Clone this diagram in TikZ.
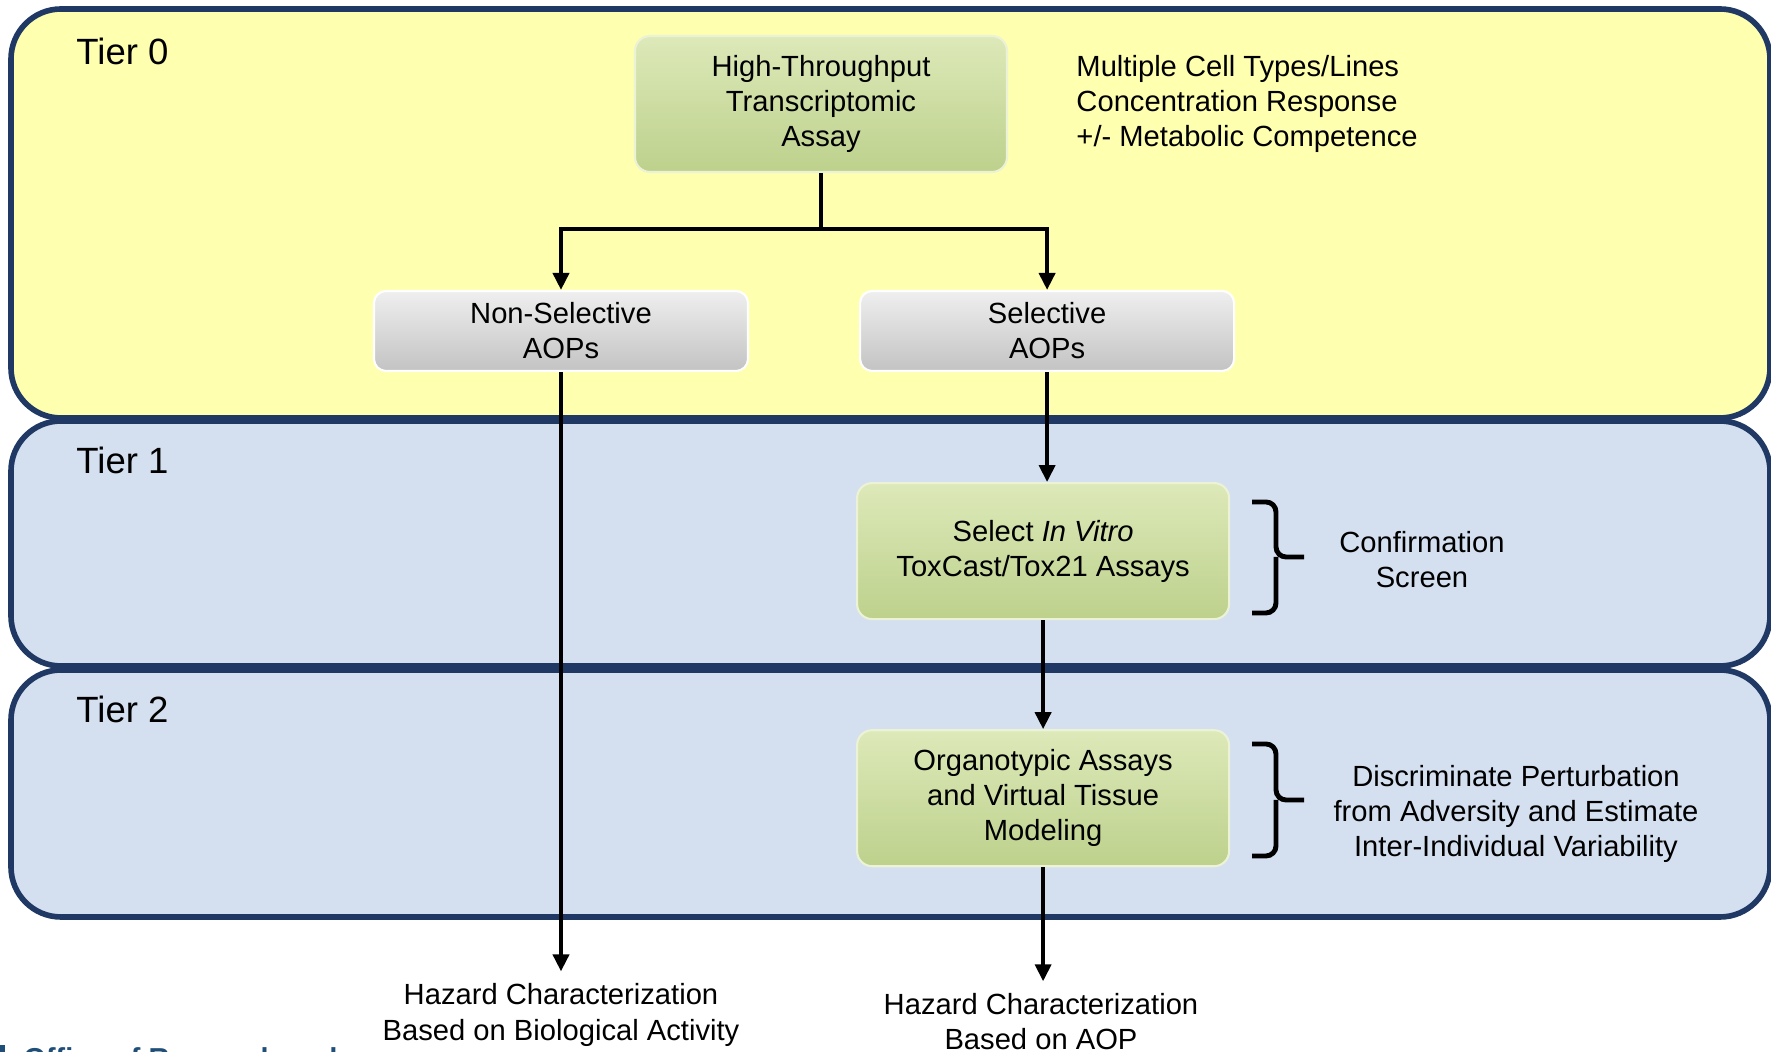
\documentclass[tikz,border=0pt]{standalone}
\usepackage{fontspec}
\setmainfont{Liberation Sans}
\usepackage{xcolor}
\usetikzlibrary{arrows.meta,positioning}

\definecolor{tierline}{HTML}{1F3864}
\definecolor{tieryellow}{HTML}{FFFFB0}
\definecolor{tierblue}{HTML}{D4E0F0}
\definecolor{greentop}{HTML}{DDE9B9}
\definecolor{greenbot}{HTML}{BDD18C}
\definecolor{greytop}{HTML}{EFEFEF}
\definecolor{greybot}{HTML}{C3C3C3}
\definecolor{ordblue}{HTML}{1F4E79}

\begin{document}
\begin{tikzpicture}[
    font=\fontsize{8.3}{10}\selectfont,
    tier/.style={draw=tierline, line width=1.6pt, rounded corners=0.5cm},
    tierlabel/.style={anchor=west, font=\fontsize{10.4}{12}\selectfont},
    greenbox/.style={rectangle, rounded corners=0.15cm, minimum width=3.72cm, minimum height=1.36cm, align=center, top color=greentop, bottom color=greenbot, draw=greentop!60!white, line width=0.6pt},
    greybox/.style={rectangle, rounded corners=0.12cm, minimum width=3.74cm, minimum height=0.77cm, align=center, top color=greytop, bottom color=greybot, draw=white, line width=0.6pt},
    note/.style={align=center},
    arrow/.style={-{Triangle[length=0.17cm, width=0.16cm]}, line width=1.1pt},
    bracket/.style={line width=1.4pt, rounded corners=0.1cm}
]
    \useasboundingbox (0,0) rectangle (17.71,-10.52);

    % Tier panels
    \begin{scope}
    \clip (0,0) rectangle (17.71,-10.52);
    \draw[tier, fill=tieryellow] (0.11,-0.09) rectangle (17.70,-4.18);
    \draw[tier, fill=tierblue] (0.11,-4.21) rectangle (17.70,-6.66);
    \draw[tier, fill=tierblue] (0.11,-6.70) rectangle (17.70,-9.17);
    % Footer
    \fill[ordblue] (0,-10.45) rectangle (0.05,-10.52);
    \node[anchor=north west, inner sep=0pt, text=ordblue, font=\fontsize{8.2}{10}\selectfont\bfseries] (office) at (0.23,-10.47) {Office of Research and};
    \end{scope}

    \node[tierlabel] (tier0) at (0.64,-0.51) {Tier 0};
    \node[tierlabel] (tier1) at (0.64,-4.60) {Tier 1};
    \node[tierlabel] (tier2) at (0.64,-7.09) {Tier 2};

    % Assays
    \node[greenbox] (htta) at (8.21,-1.04) {High-Throughput\\Transcriptomic\\Assay};
    \node[greybox] (nonsel) at (5.61,-3.31) {Non-Selective\\AOPs};
    \node[greybox, right=1.10cm of nonsel] (sel) {Selective\\AOPs};
    \node[greenbox, below=1.10cm of sel, xshift=-0.04cm] (invitro) {Select \textit{In Vitro}\\ToxCast/Tox21 Assays};
    \node[greenbox, below=1.09cm of invitro] (organo) {Organotypic Assays\\and Virtual Tissue\\Modeling};

    % Notes
    \node[align=left, right=0.56cm of htta] (cells) {Multiple Cell Types/Lines\\Concentration Response\\+/- Metabolic Competence};
    \node[note] (confirm) at (14.22,-5.60) {Confirmation\\Screen};
    \node[note] (discrim) at (15.16,-8.14) {Discriminate Perturbation\\from Adversity and Estimate\\Inter-Individual Variability};

    % Outcomes
    \node[note] (hazbio) at (5.61,-10.15) {Hazard Characterization\\Based on Biological Activity};
    \node[note] (hazaop) at (10.41,-10.22) {Hazard Characterization\\Based on AOP};

    % Brackets
    \draw[bracket] (12.52,-5.02) -| (12.76,-5.57) -- (13.04,-5.57) (12.76,-5.57) |- (12.52,-6.13);
    \draw[bracket] (12.52,-7.44) -| (12.76,-8.00) -- (13.04,-8.00) (12.76,-8.00) |- (12.52,-8.56);

    % Arrows
    \draw[arrow] (htta.south) -- ++(0,-0.56) -| (nonsel.north);
    \draw[arrow] (htta.south) -- ++(0,-0.56) -| (sel.north);
    \draw[arrow] (nonsel.south) -- (hazbio.north);
    \draw[arrow] (sel.south) -- (sel.south |- invitro.north);
    \draw[arrow] (invitro) -- (organo);
    \draw[arrow] (organo.south) -- (organo.south |- hazaop.north);
\end{tikzpicture}
\end{document}
